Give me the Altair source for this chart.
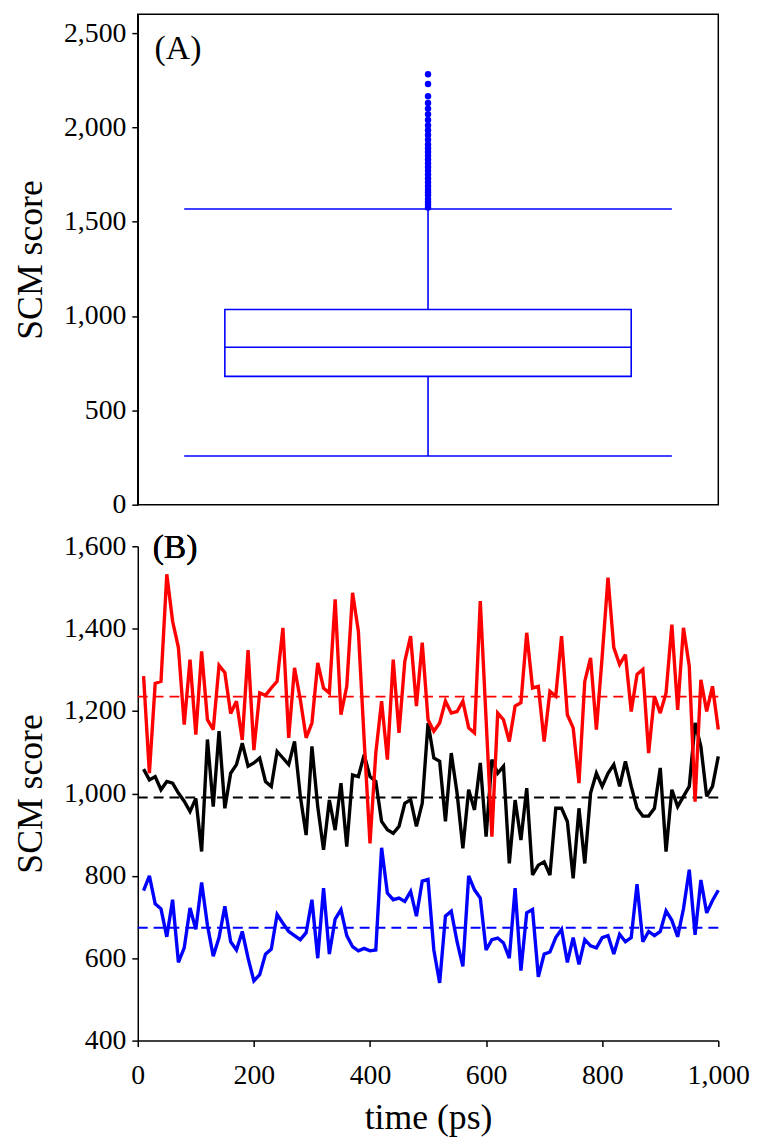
import altair as alt
import pandas as pd

FONT = "Liberation Serif"

# ---------------- Panel (B) data ----------------
times = [
    10, 20, 30, 40, 50, 60, 70, 80, 90, 100,
    110, 120, 130, 140, 150, 160, 170, 180, 190, 200,
    210, 220, 230, 240, 250, 260, 270, 280, 290, 300,
    310, 320, 330, 340, 350, 360, 370, 380, 390, 400,
    410, 420, 430, 440, 450, 460, 470, 480, 490, 500,
    510, 520, 530, 540, 550, 560, 570, 580, 590, 600,
    610, 620, 630, 640, 650, 660, 670, 680, 690, 700,
    710, 720, 730, 740, 750, 760, 770, 780, 790, 800,
    810, 820, 830, 840, 850, 860, 870, 880, 890, 900,
    910, 920, 930, 940, 950, 960, 970, 980, 990, 1000,
]

red_scores = [
    1285, 1049, 1267, 1272, 1532, 1418, 1354, 1167, 1325, 1143,
    1345, 1179, 1155, 1311, 1293, 1194, 1224, 1130, 1348, 1105,
    1244, 1238, 1256, 1272, 1402, 1135, 1305, 1228, 1135, 1171,
    1317, 1256, 1244, 1471, 1191, 1260, 1487, 1394, 1130, 879,
    1098, 1224, 1082, 1325, 1147, 1321, 1382, 1212, 1366, 1179,
    1151, 1171, 1224, 1195, 1199, 1224, 1159, 1147, 1467, 1180,
    895, 1195, 1179, 1126, 1212, 1220, 1390, 1256, 1260, 1126,
    1248, 1236, 1382, 1191, 1159, 1025, 1272, 1329, 1155, 1333,
    1524, 1354, 1313, 1337, 1199, 1289, 1301, 1098, 1236, 1195,
    1244, 1410, 1203, 1402, 1309, 980, 1276, 1199, 1260, 1155,
]

black_scores = [
    1059, 1033, 1041, 1009, 1029, 1025, 1001, 981, 956, 988,
    859, 1131, 968, 1151, 964, 1049, 1070, 1122, 1066, 1074,
    1086, 1029, 1017, 1102, 1086, 1070, 1126, 993, 899, 1114,
    968, 863, 984, 911, 1025, 871, 1045, 1041, 1094, 1041,
    1029, 932, 912, 903, 920, 976, 985, 920, 976, 1171,
    1086, 1078, 932, 1098, 1001, 867, 1009, 960, 1074, 895,
    1082, 1049, 1066, 830, 984, 887, 1013, 802, 826, 834,
    802, 964, 964, 932, 794, 964, 830, 1001, 1049, 1017,
    1049, 1070, 1017, 1078, 1017, 964, 945, 945, 964, 1062,
    859, 1009, 968, 993, 1017, 1171, 1114, 993, 1017, 1090,
]

blue_scores = [
    764, 800, 732, 720, 652, 742, 590, 625, 722, 670,
    784, 680, 605, 650, 726, 640, 620, 665, 600, 545,
    560, 610, 622, 706, 685, 665, 655, 645, 662, 742,
    600, 770, 610, 695, 718, 655, 628, 618, 624, 618,
    620, 868, 758, 742, 746, 738, 762, 702, 787, 791,
    620, 540, 702, 714, 640, 580, 800, 766, 746, 620,
    645, 649, 637, 600, 770, 570, 710, 718, 555, 610,
    615, 650, 670, 590, 650, 585, 645, 630, 625, 650,
    655, 610, 658, 640, 650, 780, 640, 665, 655, 665,
    715, 692, 652, 720, 815, 657, 790, 710, 740, 765,
]

series_names = ["blue", "black", "red"]
series_colors = ["#0000ff", "#000000", "#ff0000"]
series_means = [674, 990, 1235]

# ---------------- Panel (A) data ----------------
box_q1 = 680
box_median = 835
box_q3 = 1035
whisker_low = 258
whisker_high = 1568
outliers = [
    1575, 1590, 1605, 1620, 1640, 1655, 1670, 1690, 1710, 1730,
    1750, 1770, 1790, 1810, 1830, 1850, 1870, 1890, 1910, 1935,
    1960, 1985, 2010, 2040, 2070, 2100, 2130, 2165, 2230, 2282,
]

# ---------------- build tables ----------------
rows = []
for name, vals in zip(["blue", "black", "red"], [blue_scores, black_scores, red_scores]):
    for t, v in zip(times, vals):
        rows.append({"time": t, "score": v, "series": name})
lines_df = pd.DataFrame(rows)
means_df = pd.DataFrame({"series": series_names, "mean": series_means})

box_df = pd.DataFrame({
    "q1": [box_q1], "median": [box_median], "q3": [box_q3],
    "lo": [whisker_low], "hi": [whisker_high],
})
caps_df = pd.DataFrame({"cap": [whisker_low, whisker_high]})
out_df = pd.DataFrame({"v": outliers})

BLUE = "#0000ff"

color_scale = alt.Scale(domain=series_names, range=series_colors)

# ---------------- Panel (A) ----------------
xs = alt.Scale(domain=[0, 1])
ys_top = alt.Scale(domain=[0, 2500])
yaxis_top = alt.Axis(values=[0, 500, 1000, 1500, 2000, 2500], format=",d",
                     title="SCM score")

box_rect = alt.Chart(box_df).mark_rect(fill="white", stroke=BLUE, strokeWidth=1.6).encode(
    x=alt.XDatum(0.15, type="quantitative", scale=xs, axis=None),
    x2=alt.X2Datum(0.85),
    y=alt.Y("q1:Q", scale=ys_top, axis=yaxis_top),
    y2="q3:Q",
)
median_rule = alt.Chart(box_df).mark_rule(color=BLUE, strokeWidth=1.6).encode(
    x=alt.XDatum(0.15, type="quantitative"),
    x2=alt.X2Datum(0.85),
    y="median:Q",
)
whisk_up = alt.Chart(box_df).mark_rule(color=BLUE, strokeWidth=1.6).encode(
    x=alt.XDatum(0.5, type="quantitative"), y="q3:Q", y2="hi:Q")
whisk_lo = alt.Chart(box_df).mark_rule(color=BLUE, strokeWidth=1.6).encode(
    x=alt.XDatum(0.5, type="quantitative"), y="lo:Q", y2="q1:Q")
caps = alt.Chart(caps_df).mark_rule(color=BLUE, strokeWidth=1.6).encode(
    x=alt.XDatum(0.08, type="quantitative"), x2=alt.X2Datum(0.92), y="cap:Q")
pts = alt.Chart(out_df).mark_circle(color=BLUE, opacity=1, size=42).encode(
    x=alt.XDatum(0.5, type="quantitative"), y="v:Q")
label_a = alt.Chart(box_df).mark_text(text="(A)", font=FONT, fontSize=34,
                                      align="left", baseline="middle", color="black").encode(
    x=alt.value(17), y=alt.value(35))

top = alt.layer(box_rect, whisk_up, whisk_lo, caps, median_rule, pts, label_a).properties(
    width=586, height=495,
    view=alt.ViewBackground(stroke="black", strokeWidth=1.5),
)

# ---------------- Panel (B) ----------------
xs_b = alt.Scale(domain=[0, 1000])
ys_b = alt.Scale(domain=[400, 1600])
xaxis_b = alt.Axis(values=[0, 200, 400, 600, 800, 1000], format=",d", title="time (ps)",
                   titleFontSize=36, titlePadding=12, labelPadding=15, labelFlush=False)
yaxis_b = alt.Axis(values=[400, 600, 800, 1000, 1200, 1400, 1600], format=",d",
                   title="SCM score")

mean_rules = alt.Chart(means_df).mark_rule(strokeWidth=2, strokeDash=[10, 6]).encode(
    x=alt.XDatum(0, type="quantitative", scale=xs_b, axis=xaxis_b),
    x2=alt.X2Datum(1000),
    y=alt.Y("mean:Q", scale=ys_b, axis=yaxis_b),
    color=alt.Color("series:N", scale=color_scale, legend=None),
)

line_layers = []
for name in series_names:
    line_layers.append(
        alt.Chart(lines_df).transform_filter(alt.datum.series == name)
        .mark_line(strokeWidth=3.4, strokeJoin="miter", strokeMiterLimit=3)
        .encode(
            x=alt.X("time:Q", scale=xs_b, axis=xaxis_b),
            y=alt.Y("score:Q", scale=ys_b, axis=yaxis_b),
            color=alt.Color("series:N", scale=color_scale, legend=None),
            order="time:Q",
        )
    )

label_b = alt.Chart(means_df).mark_text(text="(B)", font=FONT, fontSize=34,
                                        align="left", baseline="middle", color="black").encode(
    x=alt.value(15), y=alt.value(2))

bottom = alt.layer(mean_rules, *line_layers, label_b).properties(
    width=586, height=499,
    view=alt.ViewBackground(stroke="transparent"),
)

chart = alt.vconcat(top, bottom, spacing=11).properties(
    padding={"left": 4, "top": 0, "right": 0, "bottom": 0}
).configure(
    font=FONT,
).configure_axis(
    labelFont=FONT, titleFont=FONT, labelFontSize=28, titleFontSize=36,
    titleFontWeight="normal", labelColor="black", titleColor="black",
    domainColor="black", domainWidth=1.5, tickColor="black", tickWidth=1.5,
    tickSize=6, labelPadding=6, titlePadding=14, grid=False,
).configure_view(stroke="transparent")

chart.save("out.html", embed_options={"renderer": "svg", "actions": False})
